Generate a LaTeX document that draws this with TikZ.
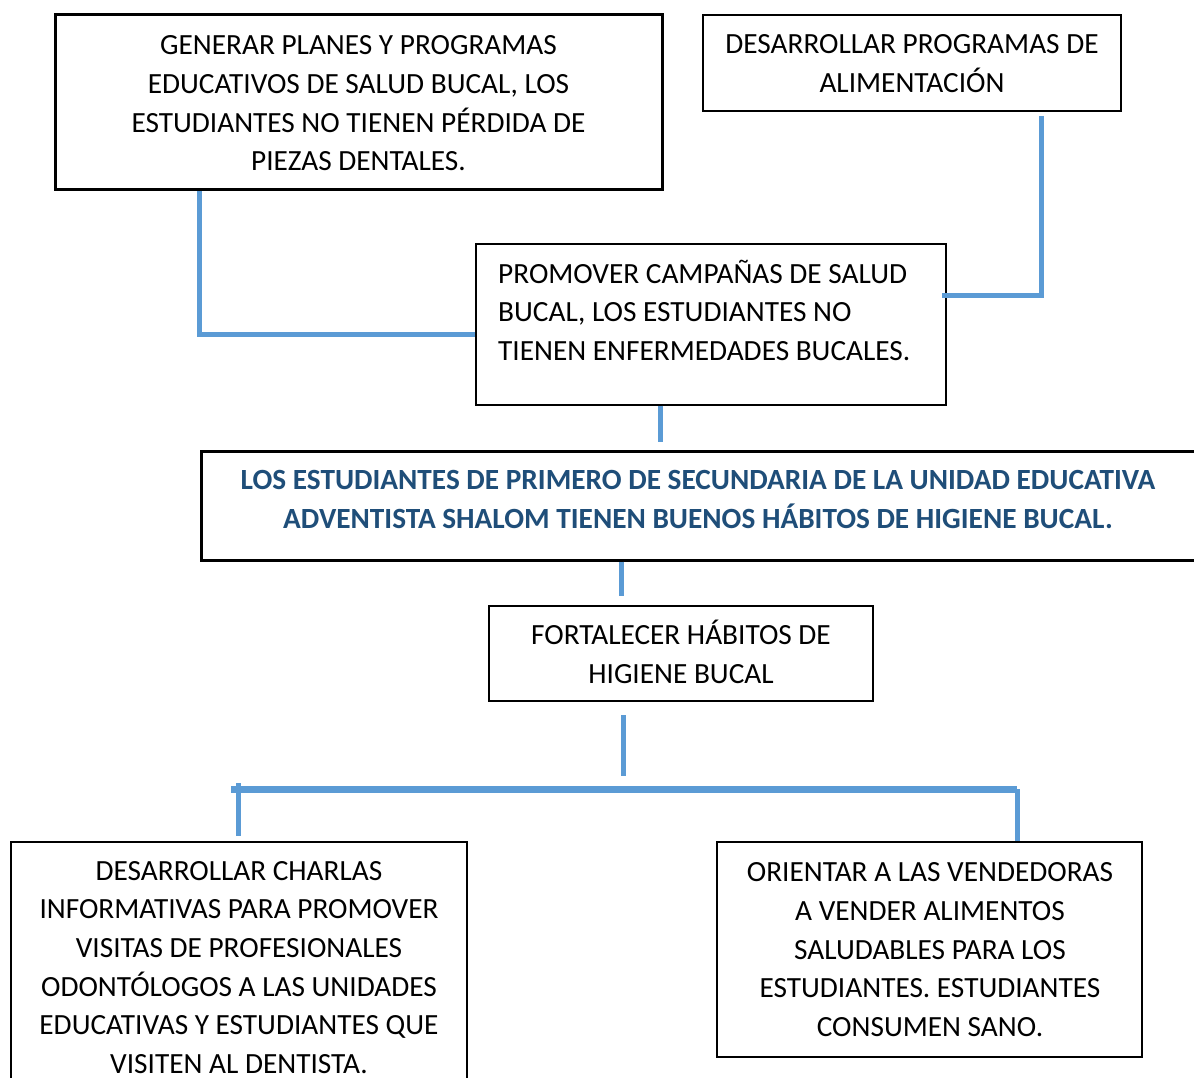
\documentclass[tikz,border=0pt]{standalone}
\usepackage{fontspec}
\setmainfont{Carlito}
\usetikzlibrary{fit}
\definecolor{connblue}{HTML}{5B9BD5}
\definecolor{titleblue}{HTML}{1F4E79}
\tikzset{
  boxframe/.style={draw=black, inner sep=0pt, fill=none},
  thickframe/.style={boxframe, line width=3pt},
  midframe/.style={boxframe, line width=2pt},
  thinframe/.style={boxframe, line width=1.4pt},
  txt/.style={inner sep=0pt, yshift=-2pt, font=\fontsize{29.3pt}{38.7pt}\selectfont, text=black},
  conn/.style={draw=connblue, line width=5pt, line join=miter},
}
\begin{document}
\begin{tikzpicture}[x=1pt, y=-1pt]
\useasboundingbox (0,0) rectangle (1194,1078);
\clip (0,0) rectangle (1194,1078);
\fill[white] (0,0) rectangle (1194,1078);

% boxes
\node[thickframe, fit={(55,15) (662,190)}] (a) {};
\node[thinframe, fit={(703,15) (1121,111)}] (b) {};
\node[thinframe, fit={(476,244) (946,405)}] (c) {};
\node[thickframe, fit={(201,451) (1196,560)}] (d) {};
\node[midframe, fit={(489,606) (873,701)}] (e) {};
\node[thinframe, fit={(11,842) (467,1095)}] (f) {};
\node[midframe, fit={(717,842) (1142,1057)}] (g) {};

% texts
\node[txt, align=center] (at) at (358.5,103) {\strut GENERAR PLANES Y PROGRAMAS\\EDUCATIVOS DE SALUD BUCAL, LOS\\ESTUDIANTES NO TIENEN PÉRDIDA DE\\PIEZAS DENTALES.\strut};
\node[txt, align=center] (bt) at (912,63.5) {\strut DESARROLLAR PROGRAMAS DE\\ALIMENTACIÓN\strut};
\node[txt, align=left, anchor=west] (ct) at (498,312) {\strut PROMOVER CAMPAÑAS DE SALUD\\BUCAL, LOS ESTUDIANTES NO\\TIENEN ENFERMEDADES BUCALES.\strut};
\node[txt, align=center, text=titleblue, font=\fontsize{29.3pt}{38.7pt}\selectfont\bfseries] (dt) at (698,499) {\strut LOS ESTUDIANTES DE PRIMERO DE SECUNDARIA DE LA UNIDAD EDUCATIVA\\ADVENTISTA SHALOM TIENEN BUENOS HÁBITOS DE HIGIENE BUCAL.\strut};
\node[txt, align=center] (et) at (681,654.5) {\strut FORTALECER HÁBITOS DE\\HIGIENE BUCAL\strut};
\node[txt, align=center] (ft) at (239,967) {\strut DESARROLLAR CHARLAS\\INFORMATIVAS PARA PROMOVER\\VISITAS DE PROFESIONALES\\ODONTÓLOGOS A LAS UNIDADES\\EDUCATIVAS Y ESTUDIANTES QUE\\VISITEN AL DENTISTA.\strut};
\node[txt, align=center] (gt) at (930,949.5) {\strut ORIENTAR A LAS VENDEDORAS\\A VENDER ALIMENTOS\\SALUDABLES PARA LOS\\ESTUDIANTES. ESTUDIANTES\\CONSUMEN SANO.\strut};

% connectors
\coordinate (bar) at (623,789);
\draw[conn] (a.south -| 199,0) |- (c.west |- 0,334);
\draw[conn] (1041,116) |- ([xshift=-5pt]c.east |- 0,295);
\draw[conn] (c.south -| 660,0) -- ([yshift=8pt]d.north -| 660,0);
\draw[conn] (d.south -| 621,0) -- ([yshift=9pt]e.north -| 621,0);
\draw[conn] ([yshift=-13pt]e.south -| 623,0) -- ([yshift=13pt]bar);
\draw[conn, line width=7pt] (231,789) -- (bar) -- (1017,789);
\draw[conn] (238,783) -- ([yshift=5pt]f.north -| 238,0);
\draw[conn] (1017,789) -- (g.north -| 1017,0);
\end{tikzpicture}
\end{document}
